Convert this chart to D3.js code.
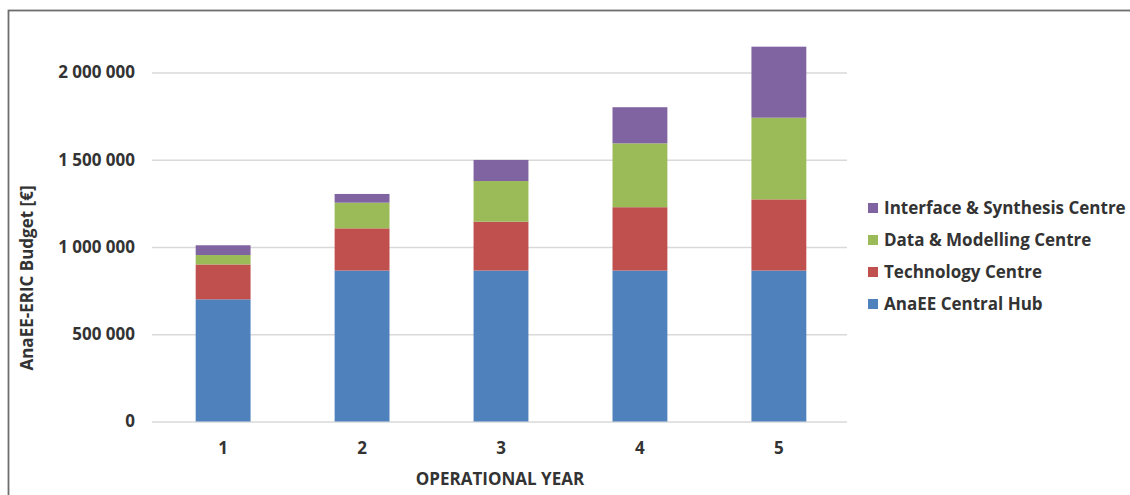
<!DOCTYPE html>
<html><head><meta charset="utf-8">
<script src="https://cdn.jsdelivr.net/npm/d3@7"></script>
<style>
html,body{margin:0;padding:0;background:#fff;}
svg{display:block;}
text{font-family:"Open Sans","Liberation Sans",sans-serif;font-weight:700;fill:#333;}
</style></head>
<body>
<svg id="chart" width="1130" height="495"></svg>
<script>
const years = ["1","2","3","4","5"];
const seriesNames = ["AnaEE Central Hub","Technology Centre","Data & Modelling Centre","Interface & Synthesis Centre"];
const hub = [700000, 865000, 865000, 865000, 865000];
const technology = [200000, 242000, 280000, 363000, 408000];
const dataModelling = [54000, 147000, 233000, 366000, 468000];
const interfaceSynth = [56000, 50000, 121000, 207000, 407000];
const yTicks = [0, 500000, 1000000, 1500000, 2000000];
const colors = ["#4F81BD","#C0504D","#9BBB59","#8064A2"];

(function(){
const table = years.map((yr,i)=>({year:yr, s0:hub[i], s1:technology[i], s2:dataModelling[i], s3:interfaceSynth[i]}));
const keys = ["s0","s1","s2","s3"];
const stacked = d3.stack().keys(keys)(table);

const svg = d3.select("#chart");
svg.append("rect").attr("x",8.5).attr("y",10.5).attr("width",1200).attr("height",600)
  .attr("fill","#fff").attr("stroke","#6e6e6e").attr("stroke-width",1.8);

const gl=152, gr=847, pt=72.5, pb=421.5;
const x = d3.scaleBand().domain(years).range([154,848]).paddingInner(0.605).paddingOuter(0.3);
const y = d3.scaleLinear().domain([0,2000000]).range([pb,pt]);

const fmt = v => d3.format(",")(v).replace(/,/g," ");

svg.append("g").selectAll("line").data(yTicks).join("line")
  .attr("x1",gl).attr("x2",gr)
  .attr("y1",d=>y(d)+0.5).attr("y2",d=>y(d)+0.5)
  .attr("stroke","#d9d9d9").attr("stroke-width",1.5);

const yAxis = d3.axisLeft(y).tickValues(yTicks).tickFormat(fmt).tickSize(0).tickPadding(0);
const gy = svg.append("g").attr("transform",`translate(135,0)`).call(yAxis);
gy.select(".domain").remove();
gy.selectAll("text").style("font-size","17px").style("font-family",'"Open Sans",sans-serif').style("font-weight","700").attr("fill","#333");

svg.append("g").selectAll("g").data(stacked).join("g")
  .attr("fill",(d,i)=>colors[i])
  .selectAll("rect").data(d=>d).join("rect")
  .attr("x",d=>x(d.data.year)).attr("width",x.bandwidth())
  .attr("y",d=>y(d[1])).attr("height",d=>y(d[0])-y(d[1]));

const xAxis = d3.axisBottom(x).tickSize(0).tickPadding(0);
const gx = svg.append("g").attr("transform",`translate(0,442)`).call(xAxis);
gx.select(".domain").remove();
gx.selectAll("text").style("font-size","17px").style("font-family",'"Open Sans",sans-serif').style("font-weight","700").attr("fill","#333");

svg.append("text").attr("x",500).attr("y",485).attr("text-anchor","middle")
  .style("font-size","17px").text("OPERATIONAL YEAR");
svg.append("text").attr("transform","translate(33,278) rotate(-90)").attr("text-anchor","middle")
  .style("font-size","17px").text("AnaEE-ERIC Budget [€]");

const legendOrder = [3,2,1,0];
const lg = svg.append("g");
legendOrder.forEach((si,r)=>{
  const ly = 208 + r*32;
  lg.append("rect").attr("x",868).attr("y",ly-5).attr("width",10).attr("height",10).attr("fill",colors[si]);
  lg.append("text").attr("x",884).attr("y",ly).attr("dy","0.35em").style("font-size","17px").text(seriesNames[si]);
});
})();
</script>
</body></html>
